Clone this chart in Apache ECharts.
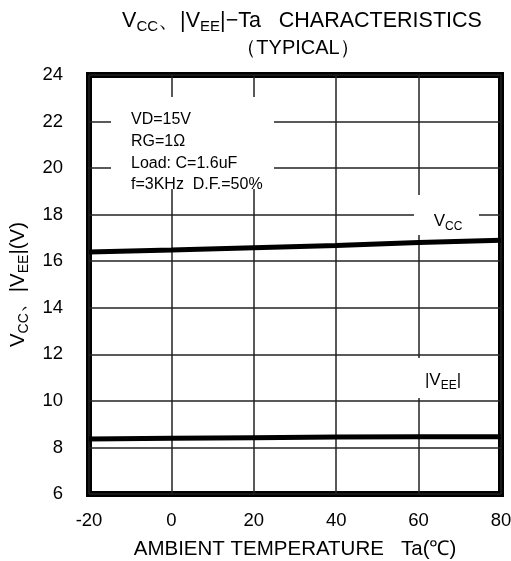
<!DOCTYPE html>
<html><head><meta charset="utf-8">
<script src="https://cdn.jsdelivr.net/npm/echarts@6/dist/echarts.min.js"></script>
<style>html,body{margin:0;padding:0;background:#fff}#c{width:511px;height:561px}</style>
</head><body><div id="c"></div>
<script>
const temps = [-20, 0, 20, 40, 60, 80];
const vcc = [16.40, 16.48, 16.58, 16.68, 16.80, 16.90];
const vee = [8.36, 8.39, 8.42, 8.45, 8.46, 8.46];
const xTicks = [-20, 0, 20, 40, 60, 80];
const yTicks = [6, 8, 10, 12, 14, 16, 18, 20, 22, 24];
const notes = ['VD=15V', 'RG=1Ω', 'Load: C=1.6uF', 'f=3KHz  D.F.=50%'];

const FONT = '"Liberation Sans", Arial, sans-serif';
const subRich = (fs) => ({
  b: {fontSize: fs, fontFamily: FONT, color: '#000', lineHeight: fs + 6, verticalAlign: 'bottom'},
  s: {fontSize: Math.round(fs * 0.68), fontFamily: FONT, color: '#000', verticalAlign: 'bottom', lineHeight: fs + 6, padding: [0, 0, -3, 0]}
});

const chart = echarts.init(document.getElementById('c'), null, {renderer: 'canvas'});
const option = {
  animation: false,
  backgroundColor: '#fff',
  grid: {left: 89, right: 10, top: 75, bottom: 67, containLabel: false, outerBoundsMode: 'none',
         show: true, borderColor: '#000', borderWidth: 6, backgroundColor: 'transparent'},
  xAxis: {
    type: 'value', min: xTicks[0], max: xTicks[xTicks.length - 1], interval: 20,
    axisLine: {show: false}, axisTick: {show: false},
    axisLabel: {color: '#000', fontSize: 18.5, fontFamily: FONT, margin: 17},
    splitLine: {show: true, lineStyle: {color: '#222', width: 1.5}},
    name: 'AMBIENT TEMPERATURE   Ta(℃)', nameLocation: 'middle', nameGap: 45,
    nameTextStyle: {color: '#000', fontSize: 20.5, fontFamily: FONT}
  },
  yAxis: {
    type: 'value', min: yTicks[0], max: yTicks[yTicks.length - 1], interval: 2,
    axisLine: {show: false}, axisTick: {show: false},
    axisLabel: {color: '#000', fontSize: 18.5, fontFamily: FONT, margin: 26},
    splitLine: {show: true, lineStyle: {color: '#222', width: 1.5}},
    name: '{b|V}{s|CC}{b|、|V}{s|EE}{b||(V)}', nameLocation: 'middle', nameGap: 57, nameRotate: 90,
    nameTextStyle: {rich: subRich(20.5)}
  },
  series: [
    {type: 'line', data: temps.map((t, i) => [t, vcc[i]]), showSymbol: false, lineStyle: {color: '#000', width: 5}, z: 5},
    {type: 'line', data: temps.map((t, i) => [t, vee[i]]), showSymbol: false, lineStyle: {color: '#000', width: 5}, z: 5}
  ],
  graphic: [
    {type: 'text', z: 100, style: {text: '{b|V}{s|CC}{b|、|V}{s|EE}{b||−Ta   CHARACTERISTICS}', rich: subRich(21.5), x: 302, y: 18, align: 'center', verticalAlign: 'middle'}},
    {type: 'text', z: 100, style: {text: '（TYPICAL）', font: '20px ' + FONT, fill: '#000', x: 298, y: 48, align: 'center', verticalAlign: 'middle'}},
    {type: 'rect', z: 100, shape: {x: 111, y: 97, width: 163, height: 92}, style: {fill: '#fff'}},
    {type: 'text', z: 101, style: {text: notes.join('\n'), font: '16px ' + FONT, lineHeight: 21.7, fill: '#000', x: 131, y: 109, align: 'left', verticalAlign: 'top'}},
    {type: 'rect', z: 100, shape: {x: 414, y: 195, width: 65, height: 40}, style: {fill: '#fff'}},
    {type: 'text', z: 101, style: {text: '{b|V}{s|CC}', rich: subRich(17), x: 448, y: 218, align: 'center', verticalAlign: 'middle'}},
    {type: 'rect', z: 100, shape: {x: 414, y: 358, width: 65, height: 40}, style: {fill: '#fff'}},
    {type: 'text', z: 101, style: {text: '{b||V}{s|EE}{b||}', rich: subRich(17), x: 443, y: 377, align: 'center', verticalAlign: 'middle'}}
  ]
};
chart.setOption(option);
</script></body></html>
